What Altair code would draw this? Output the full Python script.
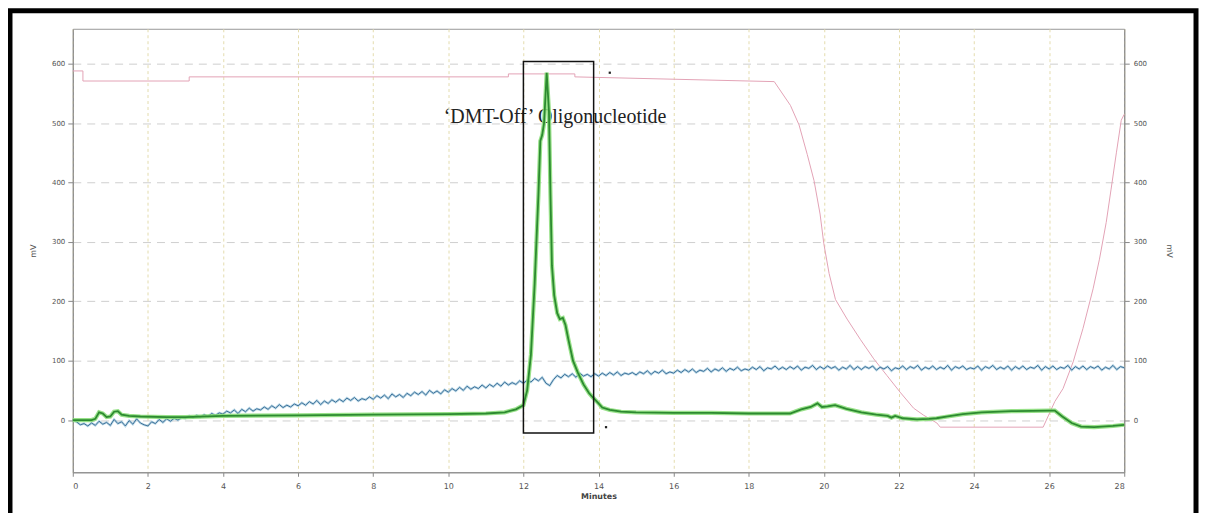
import altair as alt
import pandas as pd

# ---- data ----
pink_t = [0, 0.27, 0.27, 3.1, 3.1, 11.6, 11.6, 13.37, 13.37, 18.68, 19.11, 19.34, 19.56, 19.74,
          19.9, 20.0, 20.14, 20.31, 20.62, 20.97, 21.33, 21.68, 22.03, 22.39, 22.66, 23.01, 23.1,
          25.84, 26.15, 26.37, 26.64, 26.9, 27.17, 27.34, 27.52, 27.65, 27.79, 27.92, 28]
pink_v = [588, 588, 571, 571, 578, 578, 583, 583, 578, 570, 530, 497, 447, 403,
          347, 297, 247, 203, 170, 136, 103, 75, 47, 20, 8, -5, -12,
          -12, 31, 53, 98, 154, 221, 271, 333, 389, 450, 505, 515]

blue_v = [
    0, -3, -8, -6, -10, -5, -9, -2, -7, -4,
    -9, 1, -6, -3, -10, -1, -7, 2, -5, -8,
    -10, -3, -6, 1, -4, 2, -2, 3, 0, 4,
    3, 7, 4, 8, 5, 9, 6, 11, 8, 12,
    10, 15, 12, 17, 11, 18, 14, 20, 15, 19,
    17, 22, 18, 24, 20, 26, 21, 25, 22, 27,
    24, 29, 25, 31, 27, 33, 26, 32, 28, 34,
    30, 35, 31, 37, 33, 38, 32, 36, 34, 39,
    35, 41, 37, 42, 36, 44, 39, 43, 38, 45,
    41, 47, 43, 48, 42, 50, 45, 49, 44, 51,
    47, 53, 49, 55, 50, 57, 52, 56, 53, 59,
    54, 60, 56, 62, 57, 64, 59, 63, 60, 66,
    62, 67, 64, 70, 66, 72, 62, 58, 68, 75,
    71, 77, 73, 78, 72, 79, 74, 77, 73, 78,
    74, 79, 75, 80, 76, 81, 75, 79, 77, 80,
    76, 81, 78, 83, 77, 82, 79, 84, 78, 81,
    79, 84, 80, 85, 81, 86, 80, 84, 82, 87,
    81, 86, 83, 88, 82, 87, 84, 89, 83, 86,
    84, 89, 85, 90, 83, 88, 86, 91, 85, 89,
    85, 90, 86, 91, 84, 89, 87, 92, 85, 90,
    86, 91, 87, 90, 84, 89, 86, 92, 85, 90,
    85, 90, 87, 91, 84, 89, 86, 90, 83, 88,
    86, 91, 85, 90, 87, 92, 84, 89, 86, 91,
    85, 89, 86, 92, 84, 90, 87, 91, 85, 88,
    86, 91, 84, 90, 87, 92, 85, 89, 86, 91,
    84, 90, 86, 91, 85, 89, 87, 92, 84, 90,
    86, 91, 85, 89, 87, 92, 84, 90, 86, 91,
    85, 90, 87, 91, 84, 89, 86, 92, 85, 90,
    88]
blue_t = [round(i * 0.1, 1) for i in range(len(blue_v))]

green_t = [0, 0.5, 0.6, 0.7, 0.8, 0.9, 1.0, 1.1, 1.2, 1.3, 1.5, 1.8, 2.5, 3, 4, 6, 8, 10, 11, 11.5,
           11.8, 12.0, 12.1, 12.2, 12.3, 12.4, 12.45, 12.5, 12.55, 12.62, 12.68, 12.72, 12.76, 12.82,
           12.9, 12.97, 13.05, 13.12, 13.2, 13.32, 13.45, 13.6, 13.75, 13.85, 14.0, 14.1, 14.3, 14.6,
           15, 16, 17, 18, 19.1, 19.4, 19.65, 19.83, 19.95, 20.1, 20.3, 20.6, 21.0, 21.4,
           21.7, 21.8, 21.9, 22.1, 22.48, 22.8, 23.0, 23.3, 23.7, 24.2, 25, 26.0, 26.15, 26.35,
           26.6, 26.85, 27.2, 27.7, 28]
green_v = [0, 0, 2, 13, 11, 5, 6, 14, 15, 9, 7, 6, 5, 5, 7, 8, 9, 10, 11, 13,
           18, 25, 50, 110, 230, 380, 470, 480, 500, 585, 520, 380, 260, 210,
           180, 170, 172, 160, 135, 100, 80, 60, 45, 38, 28, 21, 17, 14,
           13, 12, 12, 11, 11, 18, 22, 28, 22, 23, 25, 19, 13, 9,
           7, 4, 7, 3, 1, 2, 3, 6, 10, 13, 15, 16, 16, 6,
           -5, -11, -12, -10, -8]

box_t = [12.0]
box_t2 = [13.87]
box_top = [604]
box_bottom = [-22]

label_text = ["\u2018DMT-Off\u2019 Oligonucleotide"]
label_t = [12.84]
label_v = [510]

dot_t = [14.3, 14.2]
dot_v = [585, -12]

x_ticks = list(range(0, 29, 2))
y_ticks = [0, 100, 200, 300, 400, 500, 600]

# ---- frames ----
pink_df = pd.DataFrame({"t": pink_t, "v": pink_v})
blue_df = pd.DataFrame({"t": blue_t, "v": blue_v})
green_df = pd.DataFrame({"t": green_t, "v": green_v})
box_df = pd.DataFrame({"t": box_t, "t2": box_t2, "v": box_top, "v2": box_bottom})
label_df = pd.DataFrame({"t": label_t, "v": label_v, "txt": label_text})
dot_df = pd.DataFrame({"t": dot_t, "v": dot_v})

W, H = 1055, 445
PL, PT, PR, PB = 65, 20, 75, 40

xs = alt.Scale(domain=[0, 28], nice=False, zero=False)
ys = alt.Scale(domain=[-88, 659], nice=False, zero=False)

x_enc = alt.X("t:Q", scale=xs, axis=alt.Axis(
    values=x_ticks, title="Minutes", format="d", grid=True,
    gridColor="#e4dcae", gridDash=[3, 3], gridWidth=1,
    tickSize=4, tickColor="#888", domainColor="#888",
    labelPadding=6, titlePadding=2, titleFontSize=8, titleFontWeight="bold",
    titleColor="#444", labelFontSize=8, labelColor="#555"))

left_axis = alt.Axis(values=y_ticks, title="mV", orient="left", grid=True,
                     gridColor="#cfcfcf", gridDash=[8, 6], gridWidth=1,
                     tickSize=5, tickColor="#888", domainColor="#888",
                     labelFontSize=7, labelColor="#555", labelPadding=3,
                     titleFontSize=8, titleFontWeight="normal", titleColor="#555",
                     titlePadding=14)
right_axis = alt.Axis(values=y_ticks, title="mV", orient="right", grid=False,
                      tickSize=5, tickColor="#888", domainColor="#888",
                      labelFontSize=7, labelColor="#555", labelPadding=4,
                      titleFontSize=8, titleFontWeight="normal", titleColor="#555",
                      titlePadding=18)

pink = alt.Chart(pink_df).mark_line(color="#e3a3b6", strokeWidth=1).encode(
    x=x_enc, y=alt.Y("v:Q", scale=ys, axis=left_axis))

blue_halo = alt.Chart(blue_df).mark_line(color="#9cc8dc", strokeWidth=2.4, opacity=0.7).encode(
    x=x_enc, y=alt.Y("v:Q", scale=ys, axis=right_axis))
blue = alt.Chart(blue_df).mark_line(color="#2f6490", strokeWidth=0.9).encode(
    x=x_enc, y=alt.Y("v:Q", scale=ys, axis=None))

label = alt.Chart(label_df).mark_text(
    font="Liberation Serif", fontSize=20, color="#222", align="center", baseline="middle").encode(
    x=x_enc, y=alt.Y("v:Q", scale=ys, axis=None), text="txt:N")

green_glow = alt.Chart(green_df).mark_line(color="#86dc74", strokeWidth=4.2, opacity=0.85).encode(
    x=x_enc, y=alt.Y("v:Q", scale=ys, axis=None))
green = alt.Chart(green_df).mark_line(color="#2c8a30", strokeWidth=1.8).encode(
    x=x_enc, y=alt.Y("v:Q", scale=ys, axis=None))

box = alt.Chart(box_df).mark_rect(filled=False, stroke="#111", strokeWidth=1.5).encode(
    x=x_enc, x2="t2:Q", y=alt.Y("v:Q", scale=ys, axis=None), y2="v2:Q")

dots = alt.Chart(dot_df).mark_square(size=5, color="#222", opacity=1).encode(
    x=x_enc, y=alt.Y("v:Q", scale=ys, axis=None))

frame = alt.Chart(pd.DataFrame({"a": [1]})).mark_rect(
    filled=False, stroke="black", strokeWidth=5).encode(
    x=alt.value(-PL + 2), x2=alt.value(W + PR - 3),
    y=alt.value(-PT + 2), y2=alt.value(H + PB + 40))

chart = alt.layer(pink, blue_halo, blue, label, green_glow, green, box, dots, frame).resolve_axis(
    y="independent").properties(
    width=W, height=H,
    autosize=alt.AutoSizeParams(type="none"),
    padding={"left": PL, "top": PT, "right": PR, "bottom": PB},
    background="white",
).configure_view(stroke="#999", strokeWidth=1).configure_axis(
    labelFont="DejaVu Sans", titleFont="DejaVu Sans")

chart.save("out.html", embed_options={"renderer": "svg", "actions": False})
